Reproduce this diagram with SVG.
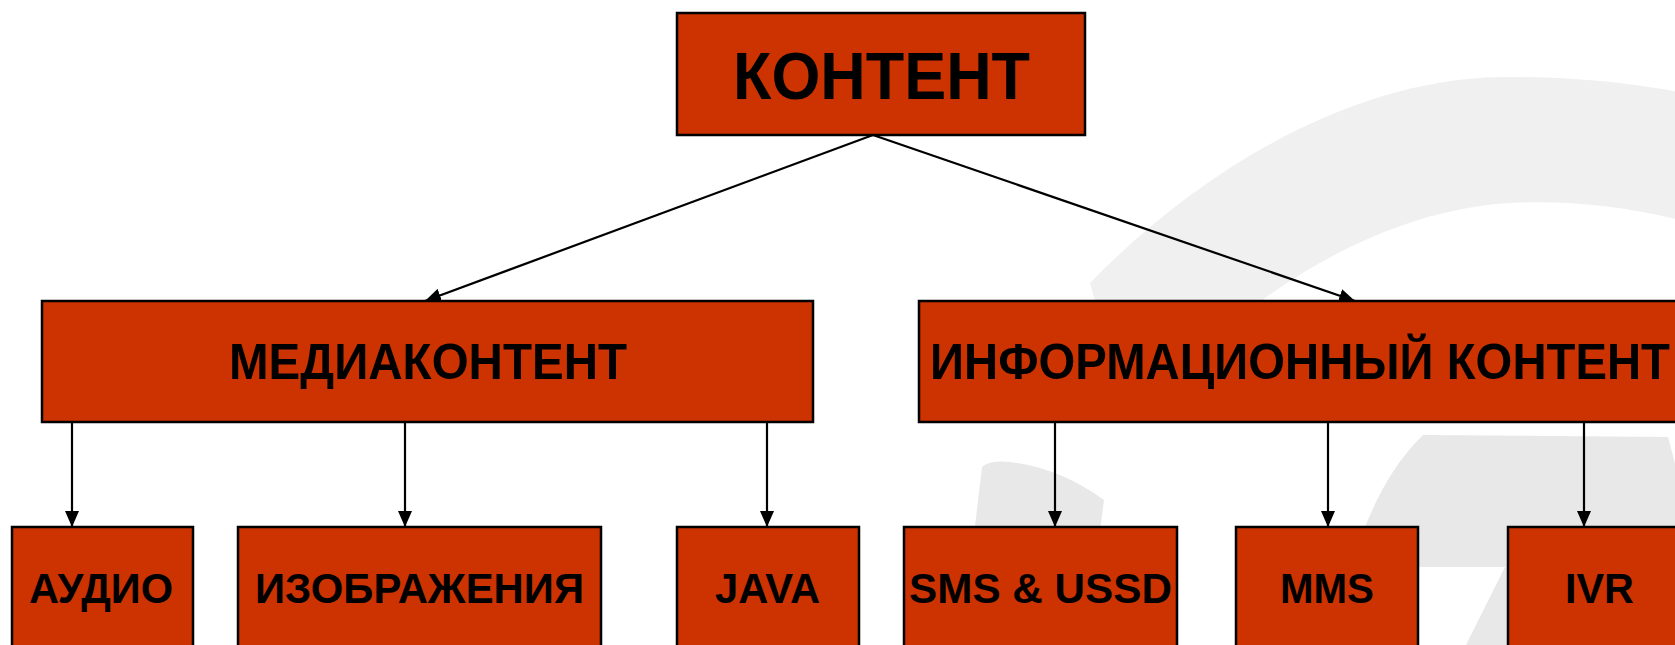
<svg xmlns="http://www.w3.org/2000/svg" width="1675" height="645" viewBox="0 0 1675 645">
<defs>
<style>
.box{fill:#cc3300;stroke:#000;stroke-width:2.5}
.t{font-family:"Liberation Sans",Arial,sans-serif;font-weight:bold;fill:#000;text-anchor:middle}
.big{font-size:66px}
.mid{font-size:50px}
.small{font-size:42px}
.edge{stroke:#000;stroke-width:2.2;fill:none;marker-end:url(#ah)}
.wm1{fill:#f0f0f0}
.wm2{fill:#e8e8e8}
</style>
<marker id="ah" markerUnits="userSpaceOnUse" markerWidth="16" markerHeight="14" refX="16" refY="7" orient="auto">
<path d="M0,0 L16,7 L0,14 Z" fill="#000"/>
</marker>
</defs>
<rect width="1675" height="645" fill="#fff"/>
<g id="watermark">
<path class="wm1" d="M1090 283 C1200 170 1350 80 1500 77 C1580 76 1640 85 1680 92 L1680 220 C1620 205 1560 200 1510 203 C1420 208 1330 250 1261 301 L1250 320 L1100 320 Z"/>
<path class="wm2" d="M961 645 L982 467 Q990 460 1010 462 Q1060 468 1104 500 L1085 645 Z"/>
<path class="wm2" d="M1423 435 L1668 437 L1690 520 L1690 645 L1466 645 L1505 567 L1380 567 L1365 527 C1378 495 1395 462 1423 435 Z"/>
</g>
<g id="connectors">
<line class="edge" x1="873" y1="135" x2="425" y2="301"/>
<line class="edge" x1="873" y1="135" x2="1355" y2="301"/>
<line class="edge" x1="72" y1="422" x2="72" y2="527"/>
<line class="edge" x1="405" y1="422" x2="405" y2="527"/>
<line class="edge" x1="767" y1="422" x2="767" y2="527"/>
<line class="edge" x1="1055" y1="422" x2="1055" y2="527"/>
<line class="edge" x1="1328" y1="422" x2="1328" y2="527"/>
<line class="edge" x1="1584" y1="422" x2="1584" y2="527"/>
</g>
<g id="n-content">
<rect class="box" x="677" y="13" width="408" height="122"/>
<text class="t big" x="881.5" y="99" textLength="297" lengthAdjust="spacingAndGlyphs">КОНТЕНТ</text>
</g>
<g id="n-media">
<rect class="box" x="42" y="301" width="771" height="121"/>
<text class="t mid" x="428" y="379" textLength="398" lengthAdjust="spacingAndGlyphs">МЕДИАКОНТЕНТ</text>
</g>
<g id="n-info">
<rect class="box" x="919" y="301" width="770" height="121"/>
<text class="t mid" x="1300" y="379" textLength="740" lengthAdjust="spacingAndGlyphs">ИНФОРМАЦИОННЫЙ КОНТЕНТ</text>
</g>
<g id="n-audio">
<rect class="box" x="12" y="527" width="181" height="140"/>
<text class="t small" x="101" y="603" textLength="144" lengthAdjust="spacingAndGlyphs">АУДИО</text>
</g>
<g id="n-images">
<rect class="box" x="238" y="527" width="363" height="140"/>
<text class="t small" x="419.5" y="603" textLength="329" lengthAdjust="spacingAndGlyphs">ИЗОБРАЖЕНИЯ</text>
</g>
<g id="n-java">
<rect class="box" x="677" y="527" width="182" height="140"/>
<text class="t small" x="767.5" y="603" textLength="105" lengthAdjust="spacingAndGlyphs">JAVA</text>
</g>
<g id="n-sms">
<rect class="box" x="904" y="527" width="273" height="140"/>
<text class="t small" x="1040.5" y="603" textLength="263" lengthAdjust="spacingAndGlyphs">SMS &amp; USSD</text>
</g>
<g id="n-mms">
<rect class="box" x="1236" y="527" width="182" height="140"/>
<text class="t small" x="1327" y="603" textLength="94" lengthAdjust="spacingAndGlyphs">MMS</text>
</g>
<g id="n-ivr">
<rect class="box" x="1508" y="527" width="183" height="140"/>
<text class="t small" x="1599.5" y="603" textLength="69" lengthAdjust="spacingAndGlyphs">IVR</text>
</g>
</svg>
